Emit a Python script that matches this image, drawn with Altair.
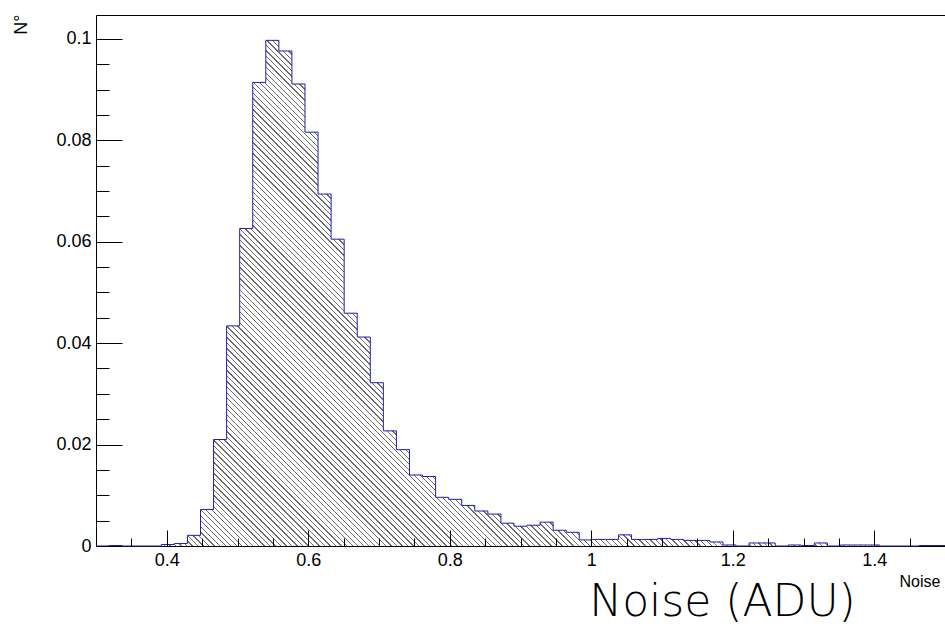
import altair as alt
import pandas as pd

# ---- histogram definition ----
X_MIN, X_MAX, N_BINS = 0.3, 1.5, 65
Y_TOP = 0.1047
FRACTION = [
    0, 0.0001, 0, 0, 0, 0.0003, 0.0005, 0.0021, 0.0072, 0.0210,
    0.0434, 0.0626, 0.0914, 0.0997, 0.0976, 0.0911, 0.0816, 0.0694, 0.0605, 0.0459,
    0.0412, 0.0322, 0.0227, 0.0190, 0.0140, 0.0137, 0.0096, 0.0092, 0.0080, 0.0069,
    0.0063, 0.0045, 0.0039, 0.0041, 0.0047, 0.0031, 0.0027, 0.0012, 0.0013, 0.0013,
    0.0022, 0.0013, 0.0013, 0.0015, 0.0013, 0.0011, 0.0011, 0.0008, 0.0002, 0,
    0.0006, 0.0006, 0, 0.0002, 0.0001, 0.0006, 0, 0.0002, 0.0002, 0.0002,
    0, 0, 0, 0.0001, 0.0001,
]
assert len(FRACTION) == N_BINS

# ---- axis tick values ----
X_LABELS = [0.4, 0.6, 0.8, 1.0, 1.2, 1.4]
X_MINOR = [0.35, 0.45, 0.5, 0.55, 0.65, 0.7, 0.75, 0.85, 0.9, 0.95,
           1.05, 1.1, 1.15, 1.25, 1.3, 1.35, 1.45]
Y_LABELS = [0, 0.02, 0.04, 0.06, 0.08, 0.1]
Y_MINOR = [0.005, 0.01, 0.015, 0.025, 0.03, 0.035, 0.045, 0.05, 0.055,
           0.065, 0.07, 0.075, 0.085, 0.09, 0.095]

# ---- table: step points at bin edges ----
width_bin = (X_MAX - X_MIN) / N_BINS
xs = [X_MIN + k * width_bin for k in range(N_BINS)] + [X_MAX]
vs = FRACTION + [FRACTION[-1]]
df = pd.DataFrame({"x": xs, "v": vs})

# ---- layout ----
PW, PH = 849, 531
PAD = {"left": 96, "top": 15, "right": 0, "bottom": 78}

# ---- hatch fill as a striped linear gradient (ROOT style 3005-like) ----
W = PW
H = max(FRACTION) / Y_TOP * PH
S0, S1 = -445.0, 400.0
S = S1 - S0
den = W * W + H * H
gx, gy = S * W / den, -S * H / den
x1, y1 = (S0 + H) / W, 1.0
x2, y2 = x1 + gx, y1 + gy
PERIOD = 5.5
n = int(S / PERIOD)
BG, INK = "white", "#6e6e6e"
stops = []
for i in range(n):
    a, b, c = i / n, (i + 0.38) / n, (i + 0.62) / n
    stops += [
        alt.GradientStop(offset=a, color=BG),
        alt.GradientStop(offset=b, color=BG),
        alt.GradientStop(offset=b, color=INK),
        alt.GradientStop(offset=c, color=INK),
        alt.GradientStop(offset=c, color=BG),
    ]
stops.append(alt.GradientStop(offset=1.0, color=BG))
hatch = alt.LinearGradient(gradient="linear", stops=stops, x1=x1, y1=y1, x2=x2, y2=y2)

xscale = alt.Scale(domain=[X_MIN, X_MAX], nice=False, zero=False)
yscale = alt.Scale(domain=[0, Y_TOP], nice=False, zero=True)

LABEL_FONT = "Liberation Sans Narrow, Liberation Sans"

base = alt.Chart(df)

area = base.mark_area(interpolate="step-after", fill=hatch, stroke=None).encode(
    x=alt.X("x:Q", scale=xscale, axis=alt.Axis(
        values=X_LABELS, format="~g", ticks=False, tickSize=0, domain=False, grid=False,
        labelFont=LABEL_FONT, labelFontSize=18, labelColor="black", labelPadding=5,
        labelOverlap=False, labelFlush=False,
        title="Noise (ADU)", titleFont="DejaVu Sans", titleFontWeight=200, titleFontSize=44,
        titleColor="black", titleX=626, titleY=69, titleAlign="center",
        titleBaseline="alphabetic", titleAngle=0)),
    y=alt.Y("v:Q", scale=yscale, axis=alt.Axis(
        values=Y_LABELS, format="~g", ticks=False, tickSize=0, domain=False, grid=False,
        labelFont=LABEL_FONT, labelFontSize=18, labelColor="black", labelPadding=5,
        labelOverlap=False, labelFlush=False,
        title="N°", titleFont="Liberation Sans", titleFontSize=18, titleFontWeight="normal",
        titleColor="black", titleX=-75, titleY=-1, titleAngle=270, titleAlign="right",
        titleBaseline="middle")),
)

outline = base.mark_line(interpolate="step-after", color="#1f1fa8", strokeWidth=1).encode(
    x=alt.X("x:Q", scale=xscale, axis=alt.Axis(
        orient="top", offset=-PH, values=X_LABELS, tickSize=16, tickColor="black",
        tickWidth=1, labels=False, domain=False, grid=False, zindex=1,
        title="Noise", titleFont="Liberation Sans", titleFontSize=16,
        titleFontWeight="normal", titleColor="black", titleX=803, titleY=40,
        titleAlign="left", titleBaseline="alphabetic", titleAngle=0)),
    y=alt.Y("v:Q", scale=yscale, axis=alt.Axis(
        orient="right", offset=-PW, values=Y_LABELS, tickSize=26, tickColor="black",
        tickWidth=1, labels=False, domain=False, grid=False, zindex=1, title="")),
)

minor = base.mark_line(strokeOpacity=0).encode(
    x=alt.X("x:Q", scale=xscale, axis=alt.Axis(
        orient="top", offset=-PH, values=X_MINOR, tickSize=8, tickColor="black",
        tickWidth=1, labels=False, domain=False, grid=False, zindex=1, title="")),
    y=alt.Y("v:Q", scale=yscale, axis=alt.Axis(
        orient="right", offset=-PW, values=Y_MINOR, tickSize=13, tickColor="black",
        tickWidth=1, labels=False, domain=False, grid=False, zindex=1, title="")),
)

chart = (
    alt.layer(area, outline, minor)
    .resolve_axis(x="independent", y="independent")
    .properties(width=PW, height=PH, padding=PAD,
                autosize=alt.AutoSizeParams(type="none"), background="white")
    .configure_view(stroke="black", strokeWidth=1)
)

chart.save("out.html", embed_options={"renderer": "svg", "actions": False})
